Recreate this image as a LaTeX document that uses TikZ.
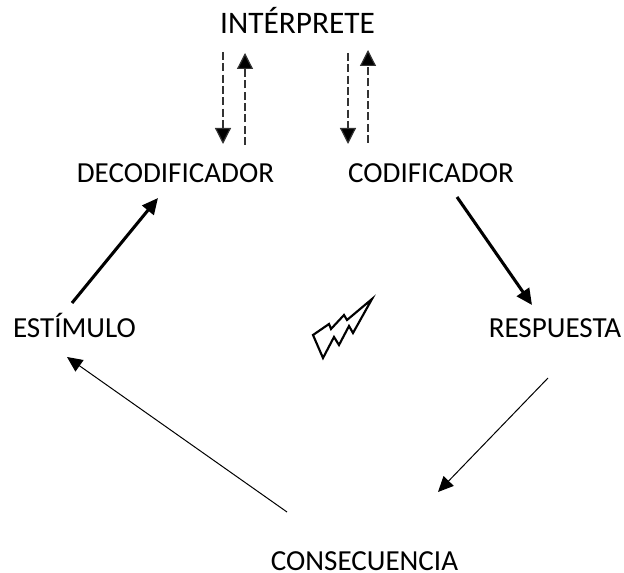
\documentclass[tikz,border=0pt]{standalone}
\usepackage{fontspec}
\setmainfont{Carlito}
\usetikzlibrary{arrows.meta}
\tikzset{
  lbl/.style={inner sep=0pt,anchor=base,font=\fontsize{21.8}{26}\selectfont,text=black},
  lblbig/.style={lbl,font=\fontsize{23.5}{28}\selectfont},
  dashar/.style={line width=0.9pt,dash pattern=on 6pt off 2.5pt,draw=black!80,arrows={-{Triangle[length=12pt,width=12pt,fill=black]}}},
  thickar/.style={line width=2.3pt,-{Triangle[length=12pt,width=11pt]}},
  thinar/.style={line width=0.75pt,-{Triangle[length=11.5pt,width=10.5pt]}},
  bolt/.style={line width=1.6pt,line join=miter,miter limit=6,fill=white}
}
\begin{document}
\begin{tikzpicture}[x=0.75pt,y=-0.75pt]
\useasboundingbox (0,0) rectangle (624,573);
\node[lblbig] (int) at (297.5,34) {INTÉRPRETE};
\node[lbl] (dec) at (175.5,183) {DECODIFICADOR};
\node[lbl] (cod) at (431,183) {CODIFICADOR};
\node[lbl] (est) at (74.5,337) {ESTÍMULO};
\node[lbl] (res) at (555,337) {RESPUESTA};
\node[lbl] (con) at (364.5,570) {CONSECUENCIA};
\draw[dashar] ([shift={(-74.5,18)}]int.base) -- ([shift={(47.5,-39)}]dec.base);
\draw[dashar] ([shift={(69.5,-38)}]dec.base) -- ([shift={(-52.5,19)}]int.base);
\draw[dashar] ([shift={(50.5,19)}]int.base) -- ([shift={(-83,-39)}]cod.base);
\draw[dashar] ([shift={(-63,-40)}]cod.base) -- ([shift={(70.5,16)}]int.base);
\draw[thickar] ([shift={(-2.5,-34)}]est.base) -- ([shift={(-17.5,15)}]dec.base);
\draw[thickar] ([shift={(26,14)}]cod.base) -- ([shift={(-23,-32)}]res.base);
\draw[thinar] ([shift={(-7,41)}]res.base) -- ([shift={(73.5,-78)}]con.base);
\draw[thinar] ([shift={(-77.5,-58)}]con.base) -- ([shift={(-7.5,20)}]est.base);
\draw[bolt] (313,335) -- (329,324) -- (331,329) -- (344,315) -- (347,320) -- (372,299) -- (353,333) -- (349,326) -- (339,345) -- (334,337) -- (323,358) -- cycle;
\end{tikzpicture}
\end{document}
